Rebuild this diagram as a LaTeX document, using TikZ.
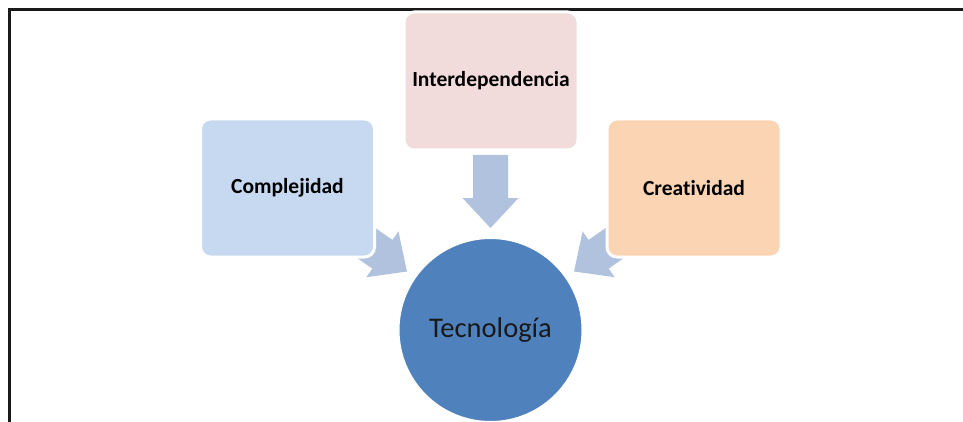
\documentclass[tikz,border=0pt]{standalone}
\usepackage{fontspec}
\setmainfont{Carlito}[Ligatures=NoCommon]
\usetikzlibrary{positioning}

\definecolor{boxblue}{HTML}{C6D9F1}
\definecolor{boxpink}{HTML}{F2DCDB}
\definecolor{boxorange}{HTML}{FBD4B4}
\definecolor{circleblue}{HTML}{4F81BD}
\definecolor{arrowblue}{HTML}{B0C2DE}

\tikzset{
    factor/.style={rectangle, rounded corners=10pt, draw=white, line width=3pt,
                   minimum width=174pt, minimum height=138pt,
                   font=\fontsize{21.5}{24}\selectfont\bfseries, text=black},
    core/.style={circle, draw=white, line width=2pt, fill=circleblue,
                 minimum size=184pt, inner sep=0pt,
                 font=\fontsize{28.5}{32}\selectfont, text=black!90},
    blockarrow/.style={fill=arrowblue, draw=none}
}

\begin{document}
\begin{tikzpicture}[x=1pt, y=-1pt]
        \useasboundingbox (0, 0) rectangle (963, 422);

        % Frame:
        \draw[line width=2.6pt, color=black!90] (9.7, 422) -- (9.7, 9.7) -- (963, 9.7);

        % Center:
        \node[core] (tec) at (490.5, 330) {Tecnología};

        % Arrows (drawn before the boxes):
        \foreach \a in {90, 145, 35}
            \fill[blockarrow, shift={(tec.center)}, rotate=\a]
                (102, 0) -- (132, 28) -- (132, 17.5) -- (175, 17.5)
                -- (175, -17.5) -- (132, -17.5) -- (132, -28) -- cycle;

        % Boxes:
        \node[factor, fill=boxblue] (compl) at (287.5, 188) {Complejidad};
        \node[factor, fill=boxpink] (inter) at (491, 81) {Interdependencia};
        \node[factor, fill=boxorange] (creat) at (694, 188) {Creatividad};
    \end{tikzpicture}
\end{document}
